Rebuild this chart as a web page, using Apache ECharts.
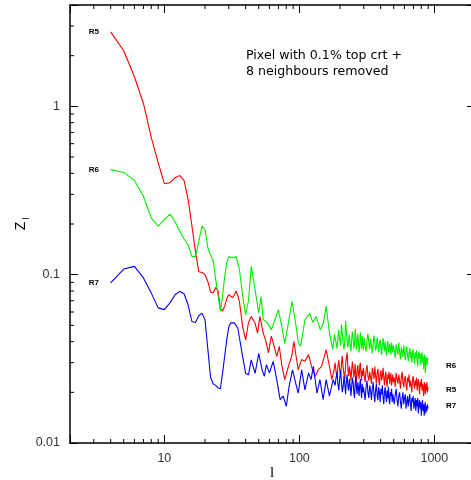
<!DOCTYPE html>
<html><head><meta charset="utf-8">
<script src="https://cdn.jsdelivr.net/npm/echarts@6/dist/echarts.min.js"></script>
<style>html,body{margin:0;padding:0;background:#fff}#c{width:471px;height:480px}</style>
</head><body><div id="c"></div>
<script>
// ---- data (multipole l, Z_l) ----
const r5L = [4,5,6,7,8,9,10,11,12,13,14,15,16,17,18,19,20,21,22,23,24,25,26,27,28,29,30,31,32,33,34,35,36,37,38,40,42,44,47,49,51,54,57,59,62,65,68,71,74,78,83,88,91,95,98,104,110,117,123,131,138,146,152,158,167,174,180];
const r5V = [2.77,2.14,1.50,1.04,0.652,0.463,0.347,0.352,0.377,0.388,0.362,0.279,0.195,0.137,0.104,0.103,0.100,0.091,0.079,0.078,0.084,0.080,0.063,0.061,0.065,0.072,0.076,0.075,0.073,0.076,0.080,0.075,0.069,0.058,0.049,0.041,0.052,0.0565,0.0516,0.045,0.0565,0.045,0.0393,0.0343,0.0431,0.0375,0.0327,0.0375,0.0292,0.0238,0.0285,0.033,0.040,0.032,0.0272,0.0313,0.0306,0.0335,0.0285,0.0249,0.0272,0.0285,0.032,0.0358,0.0285,0.0238,0.0267];
const r6L = [4,5,6,7,8,9,10,11,12,13,14,15,16,17,18,19,20,21,22,23,24,25,26,27,28,29,30,32,34,36,38,40,42,44,47,50,52,54,58,62,66,70,74,78,83,88,93,98,102,110,119,126,133,143,151,158,167,177,182];
const r6V = [0.421,0.405,0.363,0.292,0.217,0.194,0.212,0.229,0.207,0.181,0.163,0.150,0.128,0.128,0.158,0.194,0.185,0.144,0.131,0.121,0.094,0.075,0.0605,0.075,0.098,0.118,0.128,0.126,0.128,0.107,0.075,0.0578,0.070,0.112,0.0814,0.0592,0.0742,0.0541,0.0518,0.047,0.054,0.0619,0.0494,0.0391,0.0518,0.0695,0.054,0.040,0.0375,0.054,0.059,0.052,0.0565,0.047,0.052,0.065,0.045,0.036,0.044];
const r7L = [4,5,6,7,8,9,10,11,12,13,14,15,16,17,18,19,20,21,22,23,24,25,26,27,28,29,30,31,33,35,36,38,40,42,44,47,50,53,55,57,60,64,68,72,76,80,84,89,94,98,104,110,117,122,127,135,142,150,158,167,178];
const r7V = [0.0893,0.108,0.112,0.0956,0.0777,0.0635,0.062,0.068,0.076,0.0796,0.077,0.066,0.0527,0.052,0.057,0.0591,0.054,0.036,0.0245,0.0225,0.022,0.0212,0.021,0.026,0.033,0.0411,0.049,0.0517,0.0517,0.048,0.0422,0.0326,0.0259,0.0254,0.0312,0.0259,0.0341,0.0272,0.0249,0.0292,0.0261,0.0305,0.0238,0.0181,0.019,0.0165,0.0218,0.0272,0.0226,0.0198,0.0272,0.0207,0.0261,0.0238,0.0285,0.0198,0.0238,0.0181,0.0238,0.019,0.0238];
// high-l (noisy) part, shared l grid
const highL = [184,187,190,193,196,199,202,205,208,211,214,217,220,223,226,229,232,235,238,241,244,247,250,253,256,259,262,265,268,271,274,277,280,283,286,289,292,295,298,
  302,307,312,317,322,327,332,337,342,347,352,357,362,367,372,377,382,387,392,397,402,407,412,417,422,427,432,437,442,447,452,457,462,467,472,477,482,487,492,497,
  505,513,521,529,537,545,553,561,569,577,585,593,601,609,617,625,633,641,649,657,665,673,681,689,697,705,713,721,729,737,745,753,761,769,777,785,793,801,809,817,825,833,841,849,857,865,873,881,889,897];
const r6High = [0.0440,0.0395,0.0365,0.0420,0.0470,0.0410,0.0380,0.0505,0.0450,0.0385,0.0360,0.0395,0.0530,0.0465,0.0400,0.0370,0.0415,0.0440,0.0375,0.0350,0.0410,0.0460,0.0420,0.0365,0.0385,0.0475,0.0430,0.0360,0.0400,0.0445,0.0395,0.0345,0.0375,0.0455,0.0410,0.0365,0.0430,0.0390,0.0355,
  0.0420,0.0375,0.0350,0.0405,0.0445,0.0395,0.0360,0.0415,0.0380,0.0340,0.0390,0.0435,0.0400,0.0355,0.0370,0.0425,0.0385,0.0345,0.0395,0.0410,0.0365,0.0335,0.0380,0.0420,0.0375,0.0350,0.0400,0.0360,0.0330,0.0385,0.0405,0.0355,0.0340,0.0390,0.0370,0.0335,0.0395,0.0365,0.0345,0.0380,
  0.0355,0.0320,0.0385,0.0360,0.0335,0.0395,0.0345,0.0315,0.0370,0.0350,0.0325,0.0380,0.0340,0.0310,0.0355,0.0375,0.0330,0.0305,0.0345,0.0365,0.0320,0.0350,0.0300,0.0340,0.0360,0.0325,0.0295,0.0345,0.0320,0.0355,0.0310,0.0285,0.0335,0.0350,0.0315,0.0340,0.0290,0.0325,0.0345,0.0300,0.0330,0.0275,0.0315,0.0335,0.0260,0.0305,0.0325,0.0290,0.0310,0.0320];
const r5High = [0.0300,0.0265,0.0245,0.0285,0.0310,0.0270,0.0250,0.0295,0.0330,0.0280,0.0255,0.0240,0.0290,0.0320,0.0345,0.0275,0.0250,0.0285,0.0265,0.0235,0.0270,0.0305,0.0280,0.0245,0.0260,0.0295,0.0250,0.0230,0.0275,0.0290,0.0255,0.0240,0.0285,0.0300,0.0260,0.0235,0.0270,0.0250,0.0280,
  0.0255,0.0230,0.0270,0.0290,0.0250,0.0235,0.0265,0.0245,0.0225,0.0280,0.0260,0.0240,0.0285,0.0250,0.0225,0.0260,0.0275,0.0240,0.0220,0.0255,0.0270,0.0235,0.0250,0.0280,0.0245,0.0220,0.0250,0.0265,0.0230,0.0215,0.0255,0.0240,0.0265,0.0225,0.0245,0.0260,0.0220,0.0235,0.0255,0.0230,
  0.0245,0.0215,0.0260,0.0240,0.0225,0.0255,0.0235,0.0210,0.0245,0.0265,0.0230,0.0215,0.0240,0.0250,0.0220,0.0205,0.0245,0.0230,0.0255,0.0215,0.0235,0.0220,0.0200,0.0240,0.0250,0.0225,0.0210,0.0235,0.0220,0.0245,0.0205,0.0225,0.0240,0.0215,0.0195,0.0230,0.0215,0.0240,0.0205,0.0225,0.0210,0.0190,0.0230,0.0220,0.0195,0.0225,0.0205,0.0230,0.0200,0.0215];
const r7High = [0.0220,0.0245,0.0265,0.0225,0.0205,0.0240,0.0270,0.0230,0.0200,0.0215,0.0250,0.0225,0.0195,0.0235,0.0255,0.0215,0.0205,0.0240,0.0220,0.0190,0.0215,0.0245,0.0230,0.0200,0.0185,0.0225,0.0250,0.0210,0.0195,0.0230,0.0215,0.0190,0.0220,0.0240,0.0205,0.0185,0.0225,0.0200,0.0215,
  0.0200,0.0180,0.0215,0.0235,0.0200,0.0185,0.0220,0.0205,0.0180,0.0210,0.0230,0.0195,0.0175,0.0205,0.0225,0.0190,0.0180,0.0215,0.0200,0.0175,0.0210,0.0195,0.0220,0.0185,0.0170,0.0200,0.0215,0.0190,0.0175,0.0205,0.0185,0.0215,0.0180,0.0170,0.0200,0.0190,0.0210,0.0175,0.0195,0.0185,
  0.0170,0.0195,0.0210,0.0180,0.0165,0.0190,0.0200,0.0175,0.0160,0.0185,0.0200,0.0170,0.0185,0.0195,0.0160,0.0175,0.0190,0.0165,0.0180,0.0195,0.0170,0.0155,0.0185,0.0175,0.0190,0.0160,0.0170,0.0185,0.0155,0.0180,0.0165,0.0185,0.0150,0.0170,0.0180,0.0160,0.0175,0.0145,0.0165,0.0180,0.0155,0.0170,0.0145,0.0165,0.0175,0.0150,0.0165,0.0155,0.0170,0.0160];
const seriesNames = ['R5','R6','R7'];
const seriesColors = ['#ff0000','#00ee00','#0000ff'];
const annotation = ['Pixel with 0.1% top crt +','8 neighbours removed'];
const xName = 'l', yName = 'Z', ySub = 'l';

// ---- chart ----
const X_MIN = 2, X_MAX = 2000, Y_MIN = 0.01, Y_MAX = 4;
const G = {left:70, top:5, width:405, height:438};
function zip(a, b){ return a.map((x,i)=>[x,b[i]]); }
const dataSets = [
  zip(r5L.concat(highL), r5V.concat(r5High)),
  zip(r6L.concat(highL), r6V.concat(r6High)),
  zip(r7L.concat(highL), r7V.concat(r7High))
];
function isDecade(v){ const l = Math.log10(v); return Math.abs(l - Math.round(l)) < 1e-6; }
function fmt(v){ return isDecade(v) ? String(+(+v).toPrecision(6)) : ''; }
const lab = {color:'#333', fontSize:12.5, fontFamily:'Liberation Sans, Arial, sans-serif'};
function ax(extra){
  return Object.assign({
    type:'log', logBase:10,
    axisLine:{show:true, onZero:false, lineStyle:{color:'#000', width:1.5}},
    axisTick:{show:true, inside:true, length:8, lineStyle:{color:'#000', width:1}},
    splitLine:{show:false}, minorTick:{show:false}, minorSplitLine:{show:false}
  }, extra);
}
const chart = echarts.init(document.getElementById('c'), null, {renderer:'canvas'});
chart.setOption({
  animation:false,
  backgroundColor:'#fff',
  grid:{left:G.left, top:G.top, width:G.width, height:G.height, containLabel:false, outerBoundsMode:'none'},
  xAxis:[
    ax({min:X_MIN, max:X_MAX, position:'bottom', axisLabel:Object.assign({formatter:fmt, margin:9}, lab)}),
    ax({min:X_MIN, max:X_MAX, position:'top', axisLabel:{show:false}})
  ],
  yAxis:[
    ax({min:Y_MIN, max:Y_MAX, position:'left', axisLabel:Object.assign({formatter:fmt, margin:10}, lab)}),
    ax({min:Y_MIN, max:Y_MAX, position:'right', axisLabel:{show:false}})
  ],
  series: dataSets.map((d,i)=>({
    name: seriesNames[i], type:'line', data:d, xAxisIndex:0, yAxisIndex:0,
    showSymbol:false, symbol:'none', smooth:false,
    lineStyle:{color:seriesColors[i], width:1.1}, itemStyle:{color:seriesColors[i]}, z:2
  }))
});

// minor ticks and texts
const gfx = [];
const xb = G.top + G.height, xt = G.top, yl = G.left, yr = G.left + G.width;
for (let d = 1; d <= 1000; d *= 10) for (let k = 2; k <= 9; k++) {
  const v = k*d; if (v <= X_MIN || v >= X_MAX) continue;
  const px = chart.convertToPixel({xAxisIndex:0}, v);
  gfx.push({type:'line', shape:{x1:px,y1:xb,x2:px,y2:xb-4}, style:{stroke:'#000', lineWidth:1}});
  gfx.push({type:'line', shape:{x1:px,y1:xt,x2:px,y2:xt+4}, style:{stroke:'#000', lineWidth:1}});
}
for (let d = 0.01; d <= 1; d *= 10) for (let k = 2; k <= 9; k++) {
  const v = k*d; if (v <= Y_MIN || v >= Y_MAX) continue;
  const py = chart.convertToPixel({yAxisIndex:0}, v);
  gfx.push({type:'line', shape:{x1:yl,y1:py,x2:yl+4,y2:py}, style:{stroke:'#000', lineWidth:1}});
  gfx.push({type:'line', shape:{x1:yr,y1:py,x2:yr-4,y2:py}, style:{stroke:'#000', lineWidth:1}});
}
const lblFont = {fontSize:8, fontWeight:'bold', fontFamily:'Liberation Sans, Arial, sans-serif', fill:'#000'};
const firstVals = [r5V[0], r6V[0], r7V[0]];
firstVals.forEach((v,i)=>{
  const p = chart.convertToPixel({gridIndex:0}, [3, v]);
  gfx.push({type:'text', x:p[0], y:p[1], style:Object.assign({text:seriesNames[i], align:'center', verticalAlign:'middle'}, lblFont)});
});
const rightY = {R6:366, R5:389.5, R7:405.5};
Object.keys(rightY).forEach(k=>{
  gfx.push({type:'text', x:446, y:rightY[k], style:Object.assign({text:k, align:'left', verticalAlign:'middle'}, lblFont)});
});
annotation.forEach((t,i)=>{
  gfx.push({type:'text', x:246, y:56 + i*16, style:{text:t, align:'left', verticalAlign:'middle', fontSize:12.6, fontFamily:'DejaVu Sans, sans-serif', fill:'#000'}});
});
gfx.push({type:'text', x:272, y:473, style:{text:xName, align:'center', verticalAlign:'middle', fontSize:15, fontFamily:'Liberation Serif, serif', fill:'#000'}});
gfx.push({type:'text', x:21, y:226, rotation:Math.PI/2, style:{text:yName, align:'center', verticalAlign:'middle', fontSize:14, fontFamily:'Liberation Sans, Arial, sans-serif', fill:'#000'}});
gfx.push({type:'text', x:26.5, y:218.5, rotation:Math.PI/2, style:{text:ySub, align:'center', verticalAlign:'middle', fontSize:9, fontFamily:'Liberation Sans, Arial, sans-serif', fill:'#000'}});
chart.setOption({graphic:gfx});
</script></body></html>
